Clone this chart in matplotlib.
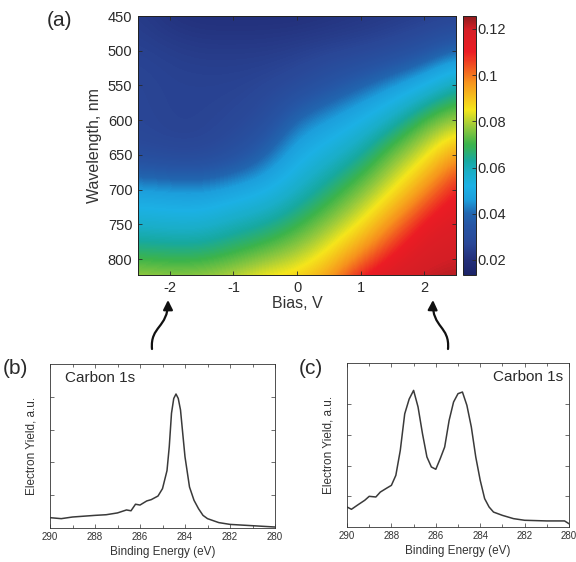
import numpy as np
import matplotlib
matplotlib.use("Agg")
import matplotlib.pyplot as plt
from matplotlib.patches import FancyArrowPatch
from matplotlib.path import Path
from matplotlib.colors import LinearSegmentedColormap

plt.rcParams['font.family'] = ['Liberation Sans', 'DejaVu Sans']

# ---------------- data: panel (a) heat map ----------------
bias = [-2.5, -2.0, -1.5, -1.0, -0.5, 0.0, 0.5, 1.0, 1.5, 2.0, 2.5]
wavelength = [450, 500, 550, 600, 650, 700, 750, 800, 850]
# rows = wavelength, columns = bias
intensity = [
    [0.024, 0.021, 0.020, 0.020, 0.020, 0.020, 0.021, 0.022, 0.023, 0.024, 0.025],
    [0.026, 0.025, 0.024, 0.024, 0.024, 0.025, 0.026, 0.027, 0.029, 0.033, 0.040],
    [0.027, 0.026, 0.026, 0.026, 0.027, 0.029, 0.034, 0.039, 0.045, 0.052, 0.063],
    [0.027, 0.026, 0.026, 0.027, 0.030, 0.041, 0.046, 0.052, 0.060, 0.072, 0.078],
    [0.029, 0.027, 0.027, 0.031, 0.039, 0.050, 0.056, 0.063, 0.075, 0.083, 0.097],
    [0.047, 0.046, 0.045, 0.048, 0.051, 0.058, 0.066, 0.075, 0.084, 0.097, 0.112],
    [0.057, 0.056, 0.056, 0.060, 0.063, 0.069, 0.077, 0.085, 0.098, 0.113, 0.117],
    [0.070, 0.069, 0.069, 0.072, 0.076, 0.081, 0.088, 0.100, 0.113, 0.119, 0.120],
    [0.085, 0.083, 0.084, 0.087, 0.094, 0.093, 0.101, 0.120, 0.122, 0.123, 0.125],
]
cbar_min, cbar_max = 0.0135, 0.1256
cbar_ticks = [0.02, 0.04, 0.06, 0.08, 0.10, 0.12]
cbar_labels = ["0.02", "0.04", "0.06", "0.08", "0.1", "0.12"]
bias_ticks = [-2, -1, 0, 1, 2]
wl_ticks = [450, 500, 550, 600, 650, 700, 750, 800]

# colour anchors of the (printed) jet colour bar
cmap_values = [0.0135, 0.020, 0.027, 0.035, 0.040, 0.046, 0.052, 0.058,
               0.063, 0.070, 0.078, 0.085, 0.097, 0.110, 0.120, 0.1256]
cmap_colors = ['#1c2468', '#232f7a', '#2a4797', '#2656a5', '#2166b0', '#1c9fdc',
               '#1cb1e5', '#1aaec8', '#17a9a0', '#3cb44b', '#9dcb3b', '#f5e61b',
               '#f7941d', '#ec1c24', '#d41f26', '#8f1b1e']

# ---------------- data: panel (b) spectrum ----------------
energy_b = [290, 289.5, 289, 288, 287.5, 287, 286.6, 286.4, 286.2, 286, 285.7, 285.5,
            285.2, 285, 284.8, 284.7, 284.6, 284.5, 284.4, 284.3, 284.2, 284.1,
            284, 283.8, 283.6, 283.4, 283.2, 283, 282.5, 282, 281, 280]
yield_b = [0.063, 0.057, 0.067, 0.077, 0.081, 0.092, 0.110, 0.105, 0.145, 0.140, 0.165, 0.173,
           0.195, 0.240, 0.350, 0.495, 0.700, 0.790, 0.817, 0.790, 0.720, 0.576,
           0.434, 0.250, 0.169, 0.118, 0.077, 0.057, 0.033, 0.022, 0.014, 0.006]

# ---------------- data: panel (c) spectrum ----------------
energy_c = [290, 289.8, 289.5, 289.2, 289, 288.7, 288.5, 288.2, 288, 287.8, 287.6,
            287.4, 287.2, 287, 286.8, 286.6, 286.4, 286.2, 286, 285.8, 285.6,
            285.4, 285.2, 285, 284.8, 284.6, 284.4, 284.2, 284, 283.8, 283.6,
            283.4, 283, 282.5, 282, 281, 280.2, 280]
yield_c = [0.122, 0.108, 0.136, 0.163, 0.187, 0.183, 0.213, 0.238, 0.254, 0.315, 0.467,
           0.690, 0.780, 0.833, 0.732, 0.569, 0.427, 0.366, 0.352, 0.417, 0.488,
           0.650, 0.762, 0.813, 0.823, 0.742, 0.610, 0.427, 0.285, 0.173, 0.122,
           0.091, 0.071, 0.051, 0.041, 0.037, 0.037, 0.020]

W, H = 576, 562
fig = plt.figure(figsize=(W / 100, H / 100), dpi=100)

def fbox(x0, y0, x1, y1):
    return [x0 / W, 1 - y1 / H, (x1 - x0) / W, (y1 - y0) / H]

spine_c = '#222222'
txt_c = '#2a2a2a'

# ---------------- panel (a) ----------------
nodes = [(v - cbar_min) / (cbar_max - cbar_min) for v in cmap_values]
cmap = LinearSegmentedColormap.from_list('printed_jet', list(zip(nodes, cmap_colors)), N=256)

axa = fig.add_axes(fbox(138, 16, 456, 275))
db = bias[1] - bias[0]
dw = wavelength[1] - wavelength[0]
img = axa.imshow(np.array(intensity), cmap=cmap, vmin=cbar_min, vmax=cbar_max,
                 interpolation='bicubic', interpolation_stage='data', aspect='auto',
                 origin='upper',
                 extent=[bias[0] - db / 2, bias[-1] + db / 2,
                         wavelength[-1] + dw / 2, wavelength[0] - dw / 2])
axa.set_xlim(-2.5, 2.5)
axa.set_ylim(823, 450)
axa.set_xticks(bias_ticks)
axa.set_xticklabels([str(b) for b in bias_ticks])
axa.set_yticks(wl_ticks)
axa.tick_params(direction='in', top=True, right=True, length=3, width=0.6,
                labelsize=10.5, pad=4, colors=txt_c)
axa.set_xlabel('Bias, V', fontsize=11.5, color='#333333', labelpad=1)
axa.set_ylabel('Wavelength, nm', fontsize=11.5, color='#333333', labelpad=4)
for s in axa.spines.values():
    s.set_linewidth(0.7)
    s.set_color(spine_c)

cax = fig.add_axes(fbox(463, 16, 476, 275))
cb = fig.colorbar(img, cax=cax, ticks=cbar_ticks)
cb.ax.set_yticklabels(cbar_labels)
cb.ax.tick_params(direction='in', length=3, width=0.6, labelsize=10.5, pad=1,
                  colors=txt_c)
cb.outline.set_linewidth(0.7)
cb.outline.set_edgecolor(spine_c)

fig.text(59 / W, 1 - 21 / H, '(a)', fontsize=15, ha='center', va='center',
         color=txt_c)

# ---------------- panels (b), (c) ----------------
def spectrum_axes(box, energy, yld, label_x, label_ha, yticks):
    ax = fig.add_axes(box)
    ax.plot(energy, yld, color='#3a3a3a', lw=1.1)
    ax.set_xlim(290, 280)
    ax.set_ylim(0, 1)
    ax.set_xticks([290, 288, 286, 284, 282, 280])
    ax.set_xticks(np.arange(280, 291, 1), minor=True)
    ax.set_yticks(yticks)
    ax.set_yticklabels([])
    ax.tick_params(which='both', direction='in', top=True, right=True,
                   width=0.5, colors='#333333', labelsize=7, pad=3)
    ax.tick_params(which='major', length=3)
    ax.tick_params(which='minor', length=2)
    ax.set_xlabel('Binding Energy (eV)', fontsize=8.5, color='#333333', labelpad=3)
    ax.set_ylabel('Electron Yield, a.u.', fontsize=8.5, color='#333333', labelpad=6)
    for s in ax.spines.values():
        s.set_linewidth(0.6)
        s.set_color('#333333')
    ax.text(label_x, 0.915, 'Carbon 1s', transform=ax.transAxes, fontsize=11,
            ha=label_ha, va='center', color=txt_c)
    return ax

axb = spectrum_axes(fbox(50, 364, 275, 528), energy_b, yield_b, 0.065, 'left',
                    [0.2, 0.4, 0.6, 0.8])
axc = spectrum_axes(fbox(347, 363, 569, 527), energy_c, yield_c, 0.975, 'right',
                    [0.187, 0.374, 0.561, 0.748])

fig.text(15 / W, 1 - 369 / H, '(b)', fontsize=15, ha='center', va='center',
         color=txt_c)
fig.text(311 / W, 1 - 369 / H, '(c)', fontsize=15, ha='center', va='center',
         color=txt_c)

# ---------------- arrows ----------------
def fp(x, y):
    return (x / W, 1 - y / H)

def s_arrow(p0, p1, p2, p3):
    path = Path([fp(*p0), fp(*p1), fp(*p2), fp(*p3)],
                [Path.MOVETO, Path.CURVE4, Path.CURVE4, Path.CURVE4])
    arr = FancyArrowPatch(path=path, arrowstyle='-|>', mutation_scale=14,
                          lw=1.6, color='#111111', transform=fig.transFigure)
    fig.patches.append(arr)

s_arrow((152, 349), (150, 326), (168, 328), (168, 300))
s_arrow((448, 349), (450, 326), (432, 328), (433, 300))

fig.savefig('out.png', dpi=100)
